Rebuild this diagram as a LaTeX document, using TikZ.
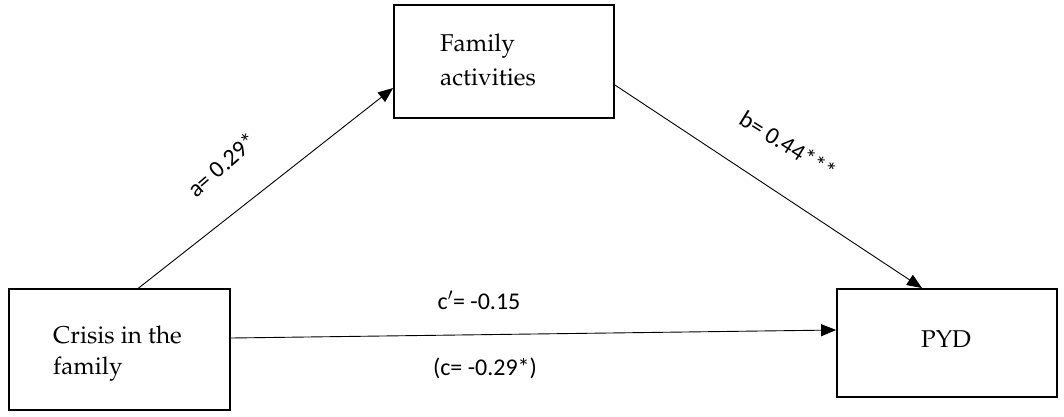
\documentclass[tikz,border=0pt]{standalone}
\usepackage[T1]{fontenc}
\usepackage{fontspec}
\newfontfamily\labfont{Carlito}
\newcommand{\palfont}{\fontencoding{T1}\fontfamily{ppl}\fontseries{m}\fontshape{n}\selectfont}
\usetikzlibrary{arrows.meta}
\tikzset{
  box/.style={draw, line width=1.8pt, minimum width=#1, inner sep=0pt},
  boxtxt/.style={anchor=base west, inner sep=0pt, font=\palfont\fontsize{24.3}{33}\selectfont},
  arr/.style={line width=0.9pt, -{Triangle[length=15pt,width=12pt]}},
  lab/.style={inner sep=0pt, font=\labfont\fontsize{24}{28}\selectfont}
}
\begin{document}
\begin{tikzpicture}[x=1pt,y=-1pt]
\useasboundingbox (0,0) rectangle (1064,416);
\node[box=220pt, minimum height=113pt] (fam) at (504,61.5) {};
\node[box=221pt, minimum height=121pt] (crisis) at (119.5,349.5) {};
\node[box=220pt, minimum height=108pt] (pyd) at (947,343) {};
\node[boxtxt] (famtxt1) at (440,51) {Family};
\node[boxtxt] (famtxt2) at (440,85) {activities};
\node[boxtxt] (crisistxt1) at (53,343) {Crisis in the};
\node[boxtxt] (crisistxt2) at (53,374) {family};
\node[inner sep=0pt, font=\palfont\fontsize{24.3}{33}\selectfont] (pydtxt) at (946,339) {PYD};
\draw[arr] ([xshift=19pt]crisis.north) -- ([yshift=-26.5pt]fam.west);
\draw[arr] ([yshift=-23.5pt]fam.east) -- ([xshift=-25pt]pyd.north);
\draw[arr] ([yshift=11.5pt]crisis.east) -- ([yshift=13pt]pyd.west);
\node[lab, rotate=41] (la) at (222,165) {a= 0.29*};
\node[lab, rotate=-32] (lb) at (788,145) {b= 0.44***};
\node[lab] (lc1) at (479,300) {c$'$= -0.15};
\node[lab] (lc2) at (485,368) {(c= -0.29*)};
\end{tikzpicture}
\end{document}
